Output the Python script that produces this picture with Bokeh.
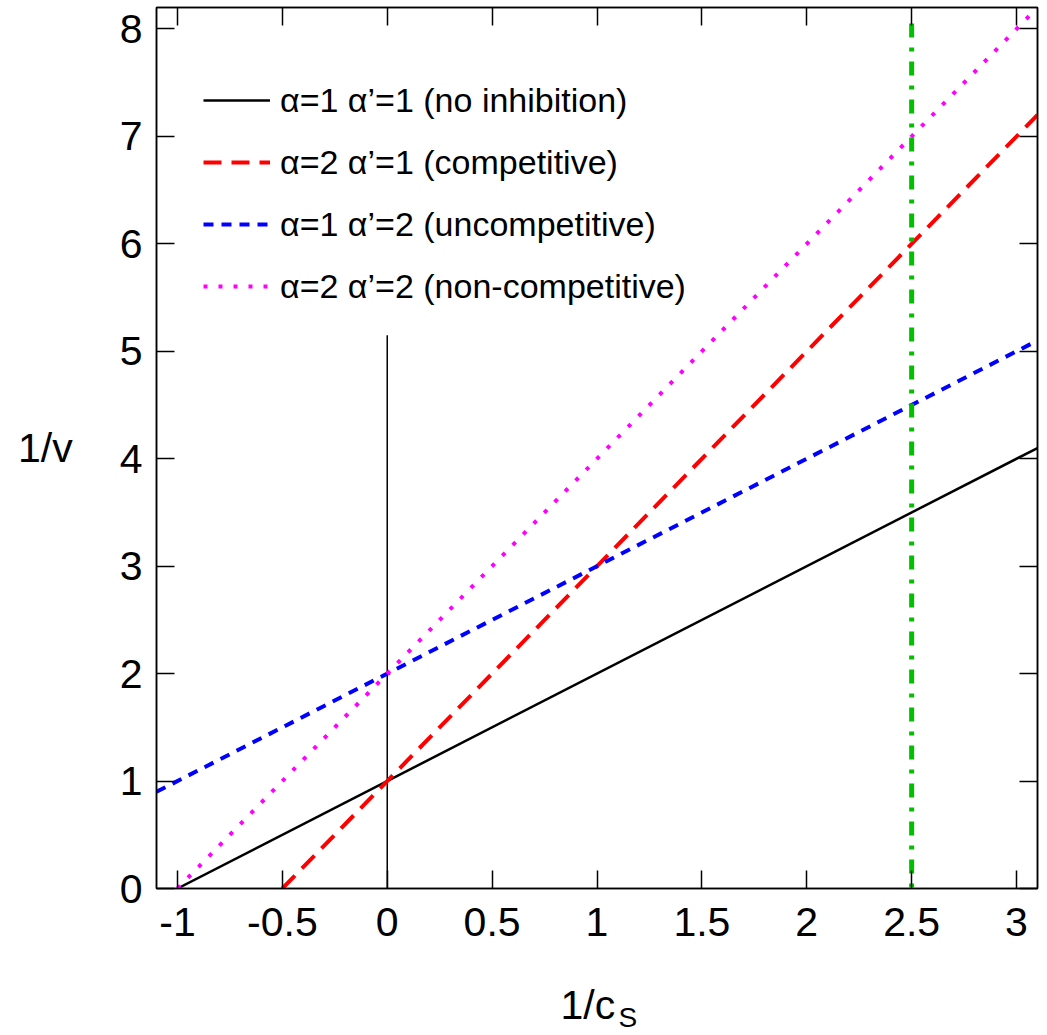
from bokeh.plotting import figure
from bokeh.layouts import column
from bokeh.models import Range1d, FixedTicker, LinearAxis, Legend, LegendItem, CustomJSTickFormatter
from bokeh.core.properties import value
from bokeh.embed import file_html
from bokeh.resources import INLINE

# ticks
x_ticks = [-1, -0.5, 0, 0.5, 1, 1.5, 2, 2.5, 3]
x_tick_labels = ["-1", "-0.5", "0", "0.5", "1", "1.5", "2", "2.5", "3"]
y_ticks = [0, 1, 2, 3, 4, 5, 6, 7, 8]
y_tick_labels = ["0", "1", "2", "3", "4", "5", "6", "7", "8"]

# series (Lineweaver-Burk lines, endpoints)
x_none = [-1.0, 3.1]
y_none = [0.0, 4.1]
x_comp = [-0.5, 3.1]
y_comp = [0.0, 7.2]
x_uncomp = [-1.1, 3.1]
y_uncomp = [0.9, 5.1]
x_noncomp = [-1.0, 3.1]
y_noncomp = [0.0, 8.2]
x_marker = [2.5, 2.5]
y_marker = [8.05, 0.0]
x_zero = [0.0, 0.0]
y_zero = [0.0, 5.15]

labels = ["\u03b1=1 \u03b1\u2019=1 (no inhibition)",
          "\u03b1=2 \u03b1\u2019=1 (competitive)",
          "\u03b1=1 \u03b1\u2019=2 (uncompetitive)",
          "\u03b1=2 \u03b1\u2019=2 (non-competitive)"]

FONT = "Liberation Sans"

p = figure(width=1047, height=960, x_range=Range1d(-1.1, 3.1), y_range=Range1d(0, 8.2),
           output_backend="svg", toolbar_location=None,
           min_border_left=156, min_border_right=10, min_border_top=7, min_border_bottom=72)
p.grid.visible = False
p.outline_line_color = "black"
p.outline_line_width = 1.5
p.background_fill_color = "white"
p.border_fill_color = "white"

def style_axis(ax):
    ax.axis_line_width = 1.5
    ax.axis_line_color = "black"
    ax.major_tick_in = 18
    ax.major_tick_out = 0
    ax.major_tick_line_width = 1.5
    ax.major_tick_line_color = "black"
    ax.minor_tick_line_color = None
    ax.major_label_text_font = FONT
    ax.major_label_text_font_size = "41px"
    ax.major_label_text_color = "black"

xa = p.xaxis[0]
xa.ticker = FixedTicker(ticks=x_ticks)
xa.major_label_overrides = {k: v for k, v in zip(x_ticks, x_tick_labels)}
style_axis(xa)
xa.major_label_standoff = 19

ya = p.yaxis[0]
ya.ticker = FixedTicker(ticks=y_ticks)
ya.major_label_overrides = {k: v for k, v in zip(y_ticks, y_tick_labels)}
style_axis(ya)
ya.major_label_standoff = 14
ya.axis_label = "1/v"
ya.axis_label_orientation = "horizontal"
ya.axis_label_text_font = FONT
ya.axis_label_text_font_size = "41px"
ya.axis_label_text_font_style = "normal"
ya.axis_label_text_color = "black"
ya.axis_label_standoff = 44

blank = "return ''"
top = LinearAxis(ticker=FixedTicker(ticks=x_ticks), formatter=CustomJSTickFormatter(code=blank))
right = LinearAxis(ticker=FixedTicker(ticks=y_ticks), formatter=CustomJSTickFormatter(code=blank))
for ax in (top, right):
    style_axis(ax)
    ax.major_label_text_font_size = "1px"
    ax.major_label_standoff = 0
p.add_layout(top, "above")
p.add_layout(right, "right")

# lines
p.line(x_zero, y_zero, line_color="black", line_width=1.5)
r1 = p.line(x_none, y_none, line_color="black", line_width=2.5)
r2 = p.line(x_comp, y_comp, line_color="#ff0000", line_width=4, line_dash="18 10")
r3 = p.line(x_uncomp, y_uncomp, line_color="#0000ff", line_width=4, line_dash="10 8")
r4 = p.line(x_noncomp, y_noncomp, line_color="#ff00ff", line_width=4, line_dash="4 11")
p.line(x_marker, y_marker, line_color="#00c000", line_width=5, line_dash="14 10 4 10")

legend = Legend(items=[LegendItem(label=labels[0], renderers=[r1]),
                       LegendItem(label=labels[1], renderers=[r2]),
                       LegendItem(label=labels[2], renderers=[r3]),
                       LegendItem(label=labels[3], renderers=[r4])],
                location=(47, 571), padding=0, margin=0, spacing=0,
                glyph_width=67, glyph_height=62, label_height=62,
                label_standoff=10, label_text_font=FONT, label_text_font_size="34px",
                label_text_color="black", border_line_color=None, background_fill_alpha=0)
p.add_layout(legend, "center")

# x-axis title strip (with subscript), below the main plot
xlabel_main_x = [0.826]
xlabel_main_y = [31]
xlabel_sub_x = [1.1025]
xlabel_sub_y = [18]

p2 = figure(width=1047, height=75, x_range=p.x_range, y_range=Range1d(0, 75),
            output_backend="svg", toolbar_location=None,
            x_axis_location=None, y_axis_location=None,
            min_border_left=156, min_border_right=10, min_border_top=0, min_border_bottom=0)
p2.grid.visible = False
p2.outline_line_color = None
p2.text(x=xlabel_main_x, y=xlabel_main_y, text=["1/c"], text_font=value(FONT),
        text_font_size="41px", text_color="black", text_baseline="alphabetic")
p2.text(x=xlabel_sub_x, y=xlabel_sub_y, text=["S"], text_font=value(FONT),
        text_font_size="28px", text_color="black", text_baseline="alphabetic")

layout = column(p, p2, spacing=0)
open("out.html", "w").write(file_html(layout, INLINE))
